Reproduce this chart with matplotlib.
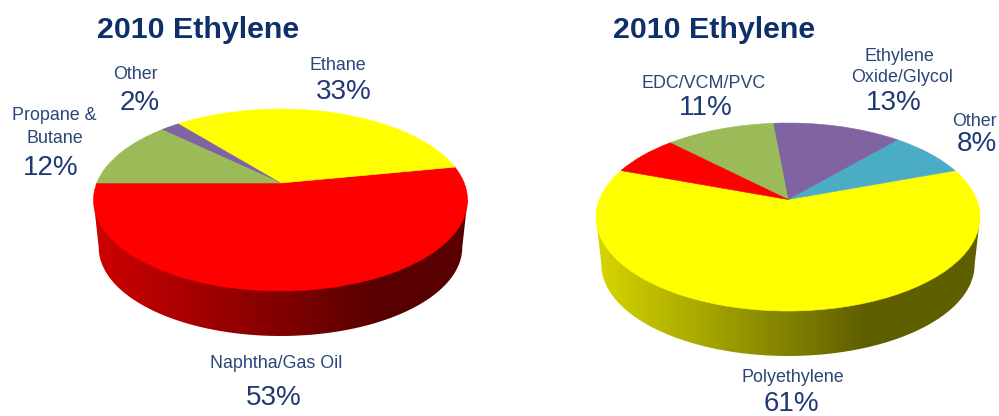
# -*- coding: utf-8 -*-
"""Two 3D-looking ethylene pies, drawn with ax.pie and a perspective transform."""

import matplotlib
matplotlib.use("Agg")
import matplotlib.pyplot as plt
import numpy as np
from matplotlib.colors import LinearSegmentedColormap
from matplotlib.path import Path
from matplotlib.transforms import Transform

plt.rcParams["font.family"] = ["Liberation Sans", "DejaVu Sans"]

TITLE = "2010 Ethylene"
YELLOW, RED, GREEN, PURPLE, TEAL = "#ffff00", "#ff0000", "#9bbb59", "#8064a2", "#4bacc6"

# left pie, counter-clockwise from the red slice
feed_names = ["Naphtha/Gas Oil", "Ethane", "Other", "Propane &\nButane"]
feed_values = [53, 33, 2, 12]
feed_colors = [RED, YELLOW, PURPLE, GREEN]

# right pie, counter-clockwise from the yellow slice (red slice has no label)
use_names = ["Polyethylene", "Other", "Ethylene\nOxide/Glycol", "EDC/VCM/PVC", None]
use_values = [61, 8, 13, 11, 7]
use_colors = [YELLOW, TEAL, PURPLE, GREEN, RED]

TITLE_COLOR = "#0f2f6b"
NAME_COLOR = "#2b4679"
PCT_COLOR = "#1f3a72"


class TiltPie(Transform):
    """Unit circle -> ellipse, with the centre pushed up like a real perspective."""

    input_dims = 2
    output_dims = 2
    is_separable = False

    def __init__(self, cx, cy, rx, ry, rise):
        super().__init__()
        self.cx, self.cy, self.rx, self.ry = cx, cy, rx, ry
        self.k = rise / ry

    def transform_non_affine(self, values):
        x, y = values[:, 0], values[:, 1]
        w = 1 + self.k * y
        px = self.cx + self.rx * np.sqrt(1 - self.k ** 2) * x / w
        py = self.cy - self.ry * (y + self.k) / w
        return np.column_stack([px, py])


def draw_pie(ax, values, colors, start, cx, cy, rx, ry, rise, side_light, side_dark, dark_at):
    # side wall first: lower half of a slightly smaller bottom ellipse
    rx2, ry2 = rx * 0.972, ry * 0.972
    bottom = cy + ry + 45 - ry2
    t = np.linspace(np.pi, 0, 80)
    wall = np.column_stack([cx + rx2 * np.cos(t), bottom + ry2 * np.sin(t)])
    wall = np.vstack([[cx - rx, cy], wall, [cx + rx, cy], [cx - rx, cy]])
    cmap = LinearSegmentedColormap.from_list(
        "wall", [(0, side_light), (dark_at, side_dark), (1, side_dark)]
    )
    im = ax.imshow(
        np.linspace(0, 1, 256)[None, :], cmap=cmap, aspect="auto",
        extent=(cx - rx, cx + rx, cy + ry + 50, cy), zorder=1,
    )
    im.set_clip_path(Path(wall), transform=ax.transData)

    wedges, _ = ax.pie(values, colors=colors, startangle=start, counterclock=True)
    tilt = TiltPie(cx, cy, rx, ry, rise) + ax.transData
    for w in wedges:
        w.set_transform(tilt)
        w.set_edgecolor(w.get_facecolor())
        w.set_linewidth(0.4)
        w.set_zorder(2)


def put_labels(ax, names, values, name_spots, pct_spots):
    for name, val, spots, pct in zip(names, values, name_spots, pct_spots):
        if name is None:
            continue
        for line, (x, y) in zip(name.split("\n"), spots):
            ax.text(x, y, line, fontsize=12.9, color=NAME_COLOR, ha="center", va="baseline")
        ax.text(pct[0], pct[1], f"{val}%", fontsize=20, color=PCT_COLOR, ha="center", va="baseline")


fig = plt.figure(figsize=(9.99, 4.16), dpi=100, facecolor="white")
ax = fig.add_axes([0, 0, 1, 1])

draw_pie(ax, feed_values, feed_colors, 180, 280.5, 200, 187, 91, 17,
         "#cf0000", "#580000", 0.76)
draw_pie(ax, use_values, use_colors, 160.2, 788, 217, 192, 94, 17.5,
         "#d6d600", "#5f5f00", 0.70)

ax.set_aspect("auto")
ax.set_xlim(0, 999)
ax.set_ylim(416, 0)
ax.axis("off")

ax.text(198.5, 38, TITLE, fontsize=21.9, fontweight="bold", color=TITLE_COLOR, ha="center", va="baseline")
ax.text(714, 38, TITLE, fontsize=21.9, fontweight="bold", color=TITLE_COLOR, ha="center", va="baseline")

put_labels(
    ax, feed_names, feed_values,
    [[(276, 368)], [(338, 70)], [(135, 79)], [(54.5, 120), (54.5, 143)]],
    [(274, 405), (344, 99), (140, 110), (51, 175)],
)
put_labels(
    ax, use_names, use_values,
    [[(793, 382)], [(974, 126)], [(899, 61), (902, 82)], [(704, 88)], None],
    [(791, 411), (977, 151), (894, 110), (706, 115), None],
)

fig.savefig("out.png", dpi=100)
plt.close(fig)
